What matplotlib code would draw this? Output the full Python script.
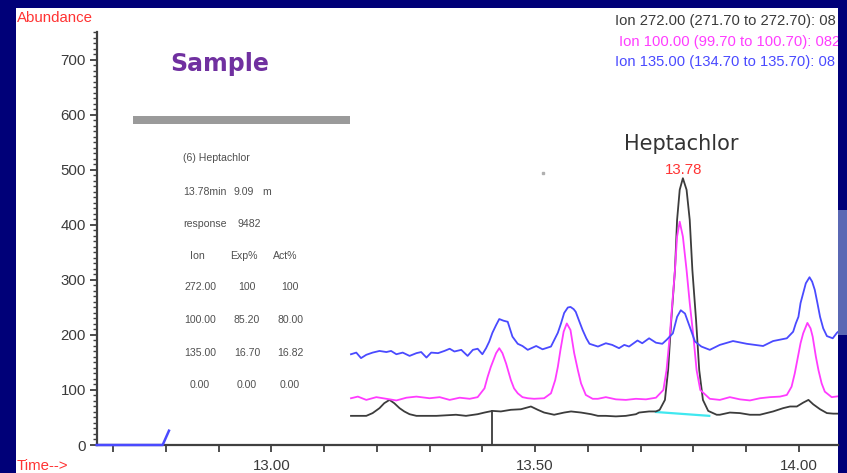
import matplotlib
matplotlib.use('Agg')
import matplotlib.pyplot as plt
from matplotlib.patches import Rectangle
from matplotlib.ticker import FixedLocator, FuncFormatter

W, H = 847, 473

# ion 135.00 trace (blue)
t135 = [13.151, 13.161, 13.170, 13.180, 13.192, 13.205, 13.218, 13.227, 13.237, 13.249,
        13.262, 13.275, 13.284, 13.294, 13.303, 13.316, 13.328, 13.338, 13.347, 13.360,
        13.372, 13.382, 13.391, 13.400, 13.407, 13.413, 13.419, 13.426, 13.432, 13.440,
        13.448, 13.453, 13.457, 13.467, 13.476, 13.486, 13.502, 13.514, 13.530, 13.543,
        13.549, 13.555, 13.562, 13.567, 13.573, 13.577, 13.584, 13.590, 13.597, 13.603,
        13.619, 13.634, 13.646, 13.659, 13.669, 13.678, 13.694, 13.703, 13.716, 13.729,
        13.741, 13.749, 13.761, 13.769, 13.776, 13.784, 13.793, 13.803, 13.815, 13.831,
        13.850, 13.875, 13.901, 13.932, 13.951, 13.977, 13.989, 13.994, 13.999, 14.003,
        14.008, 14.013, 14.020, 14.025, 14.030, 14.035, 14.040, 14.046, 14.053, 14.064,
        14.072, 14.078]
a135 = [165, 168, 158, 164, 168, 171, 169, 171, 165, 168,
        162, 167, 169, 159, 168, 167, 171, 175, 170, 173,
        162, 173, 175, 165, 176, 188, 204, 218, 229, 226,
        224, 209, 197, 184, 180, 173, 180, 174, 179, 204,
        221, 240, 250, 251, 247, 242, 224, 209, 194, 184,
        179, 185, 182, 176, 182, 179, 190, 185, 194, 186,
        184, 191, 203, 233, 245, 239, 215, 188, 179, 173,
        182, 189, 184, 180, 189, 194, 206, 221, 233, 258,
        276, 294, 305, 297, 282, 258, 233, 212, 198, 194,
        204, 209]

# ion 100.00 trace (magenta)
t100 = [13.151, 13.164, 13.180, 13.199, 13.218, 13.237, 13.256, 13.275, 13.300, 13.319,
        13.338, 13.357, 13.376, 13.391, 13.404, 13.410, 13.416, 13.426, 13.432, 13.438,
        13.445, 13.454, 13.460, 13.467, 13.476, 13.486, 13.498, 13.517, 13.530, 13.538,
        13.543, 13.548, 13.554, 13.560, 13.567, 13.574, 13.581, 13.587, 13.596, 13.609,
        13.619, 13.634, 13.653, 13.672, 13.691, 13.710, 13.729, 13.743, 13.749, 13.755,
        13.760, 13.765, 13.769, 13.774, 13.780, 13.787, 13.793, 13.800, 13.806, 13.813,
        13.831, 13.850, 13.869, 13.888, 13.907, 13.926, 13.945, 13.964, 13.977, 13.986,
        13.992, 13.997, 14.003, 14.008, 14.016, 14.022, 14.026, 14.032, 14.037, 14.043,
        14.049, 14.062, 14.078]
a100 = [85, 88, 82, 87, 84, 81, 86, 88, 85, 87,
        82, 86, 84, 87, 103, 124, 142, 167, 176, 167,
        148, 118, 103, 94, 87, 85, 84, 85, 94, 118,
        142, 173, 206, 221, 209, 167, 136, 112, 91, 84,
        84, 87, 83, 82, 84, 83, 86, 100, 136, 197,
        258, 318, 379, 406, 379, 318, 258, 197, 136, 100,
        84, 82, 87, 83, 81, 85, 87, 88, 91, 106,
        130, 155, 185, 203, 222, 212, 197, 161, 136, 112,
        97, 87, 89]

# ion 272.00 trace (black)
t272 = [13.151, 13.180, 13.192, 13.205, 13.214, 13.224, 13.233, 13.243, 13.252, 13.262,
        13.275, 13.313, 13.350, 13.369, 13.391, 13.404, 13.419, 13.435, 13.454, 13.473,
        13.492, 13.505, 13.517, 13.536, 13.555, 13.568, 13.587, 13.606, 13.619, 13.634,
        13.653, 13.672, 13.691, 13.697, 13.716, 13.729, 13.736, 13.746, 13.752, 13.758,
        13.765, 13.769, 13.774, 13.780, 13.787, 13.793, 13.798, 13.805, 13.811, 13.818,
        13.828, 13.844, 13.850, 13.869, 13.888, 13.907, 13.926, 13.951, 13.970, 13.983,
        13.996, 14.008, 14.018, 14.027, 14.040, 14.053, 14.065, 14.078]
a272 = [53, 53, 58, 67, 76, 82, 76, 67, 61, 56,
        53, 53, 55, 53, 56, 59, 62, 61, 64, 65,
        70, 64, 59, 55, 59, 61, 59, 56, 53, 53,
        52, 53, 56, 59, 61, 61, 64, 82, 136, 227,
        318, 409, 464, 485, 464, 409, 318, 227, 136, 82,
        62, 55, 55, 59, 58, 55, 55, 61, 67, 70,
        70, 77, 82, 74, 65, 58, 57, 57]

# start of the run (left of the info box)
t_start = [12.669, 12.794, 12.806]
a_start = [0, 0, 26]

# integration baseline and marker
t_base = [13.729, 13.830]
a_base = [60, 53]
t_mark = 13.4175
a_mark = 62

ion_labels = ["272.00", "100.00", "135.00", "0.00"]
exp_pct = ["100", "85.20", "16.70", "0.00"]
act_pct = ["100", "80.00", "16.82", "0.00"]
legend_lines = ["Ion 272.00 (271.70 to 272.70): 08",
                "Ion 100.00 (99.70 to 100.70): 082",
                "Ion 135.00 (134.70 to 135.70): 08"]

c_black = '#3c3c3c'
c_pink = '#ff3cff'
c_blue = '#4a4aff'
c_red = '#ff3333'
c_txt = '#3a3a3a'


def fx(x):
    return x / W


def fy(y):
    return 1 - y / H


fig = plt.figure(figsize=(W / 100, H / 100), dpi=100, facecolor='#000078')
fig.patches.append(Rectangle((fx(16), 0), (838 - 16) / W, (H - 8) / H, transform=fig.transFigure,
                             facecolor='white', edgecolor='none', zorder=-5))
fig.patches.append(Rectangle((fx(838), fy(335)), 9 / W, 125 / H, transform=fig.transFigure,
                             facecolor='#5a68b4', edgecolor='none', zorder=-5))

ax = fig.add_axes([fx(97), fy(445), (838 - 97) / W, (445 - 8) / H])
ax.set_zorder(1)
ax.set_facecolor('white')
ax.set_xlim(12.6696, 14.074)
ax.set_ylim(0, 794.5)

ax.plot(t272, a272, color=c_black, lw=1.3, zorder=3)
ax.plot(t_base, a_base, color='#40e8f0', lw=1.6, zorder=2.5)
ax.plot(t100, a100, color=c_pink, lw=1.3, zorder=4)
ax.plot(t135, a135, color=c_blue, lw=1.3, zorder=5)
ax.plot(t_start, a_start, color=c_blue, lw=1.8, zorder=6, clip_on=False)
ax.plot([t_mark, t_mark], [0, a_mark], color=c_black, lw=1.3, zorder=3)
ax.plot([13.514], [495], marker='s', ms=1.5, color='#b0b0b0', ls='none')

# grey bar under the title
ax.add_patch(Rectangle((12.738, 584), 13.150 - 12.738, 14, facecolor='#9a9a9a', edgecolor='none'))

for s in ['top', 'right']:
    ax.spines[s].set_visible(False)
for s in ['left', 'bottom']:
    ax.spines[s].set_color('#404040')
    ax.spines[s].set_linewidth(1.6)
ax.spines['left'].set_bounds(0, 750)

ax.xaxis.set_major_locator(FixedLocator([12.7 + 0.1 * i for i in range(14)]))
ax.xaxis.set_major_formatter(FuncFormatter(
    lambda v, p: '%.2f' % v if abs(v * 2 - round(v * 2)) < 1e-6 else ''))
ax.yaxis.set_major_locator(FixedLocator(list(range(0, 800, 100))))
ax.yaxis.set_minor_locator(FixedLocator(list(range(0, 760, 10))))
ax.tick_params(axis='x', length=5, width=1.3, color='#404040', pad=5,
               labelsize=10.8, labelcolor=c_txt)
ax.tick_params(axis='y', which='major', length=5, width=1.3, color='#404040', pad=3,
               labelsize=10.8, labelcolor=c_txt)
ax.tick_params(axis='y', which='minor', length=3, width=1.0, color='#404040')
for lab in ax.get_xticklabels() + ax.get_yticklabels():
    lab.set_fontfamily('Liberation Sans')

fig.text(fx(17), fy(18), 'Abundance', color=c_red, fontsize=10.8, family='Liberation Sans',
         ha='left', va='center')
fig.text(fx(17), fy(466), 'Time-->', color=c_red, fontsize=10.8, family='Liberation Sans',
         ha='left', va='center')

fig.text(fx(170), fy(71), 'Sample', color='#7030a0', fontsize=17, fontweight='bold',
         family='DejaVu Sans', ha='left', va='baseline')
fig.text(fx(624), fy(150), 'Heptachlor', color='#333333', fontsize=15,
         family='DejaVu Sans', ha='left', va='baseline')
fig.text(fx(684), fy(174), '13.78', color=c_red, fontsize=10.8, family='Liberation Sans',
         ha='center', va='baseline')

for i, (line, col) in enumerate(zip(legend_lines, [c_txt, c_pink, c_blue])):
    xs = 619 if i == 1 else 615
    t = fig.text(fx(xs), fy([21, 42, 62][i]), line, color=col, fontsize=10.6,
                 family='Liberation Sans', ha='left', va='center', clip_on=True)
    t.set_clip_box(ax.bbox)

# peak info box
info = dict(color='#505050', fontsize=7.6, family='Liberation Sans', va='center')
fig.text(fx(183), fy(158), '(6) Heptachlor', ha='left', **info)
fig.text(fx(183), fy(191.5), '13.78min', ha='left', **info)
fig.text(fx(233), fy(191.5), '9.09', ha='left', **info)
fig.text(fx(262), fy(191.5), 'm', ha='left', **info)
fig.text(fx(183), fy(223.5), 'response', ha='left', **info)
fig.text(fx(237), fy(223.5), '9482', ha='left', **info)
fig.text(fx(197), fy(256), 'Ion', ha='center', **info)
fig.text(fx(244), fy(256), 'Exp%', ha='center', **info)
fig.text(fx(285), fy(256), 'Act%', ha='center', **info)
for i in range(len(ion_labels)):
    y = 287.5 + 32.5 * i
    fig.text(fx(200), fy(y), ion_labels[i], ha='center', **info)
    fig.text(fx(247), fy(y), exp_pct[i], ha='center', **info)
    fig.text(fx(290), fy(y), act_pct[i], ha='center', **info)

fig.savefig('out.png', dpi=100, facecolor=fig.get_facecolor())
